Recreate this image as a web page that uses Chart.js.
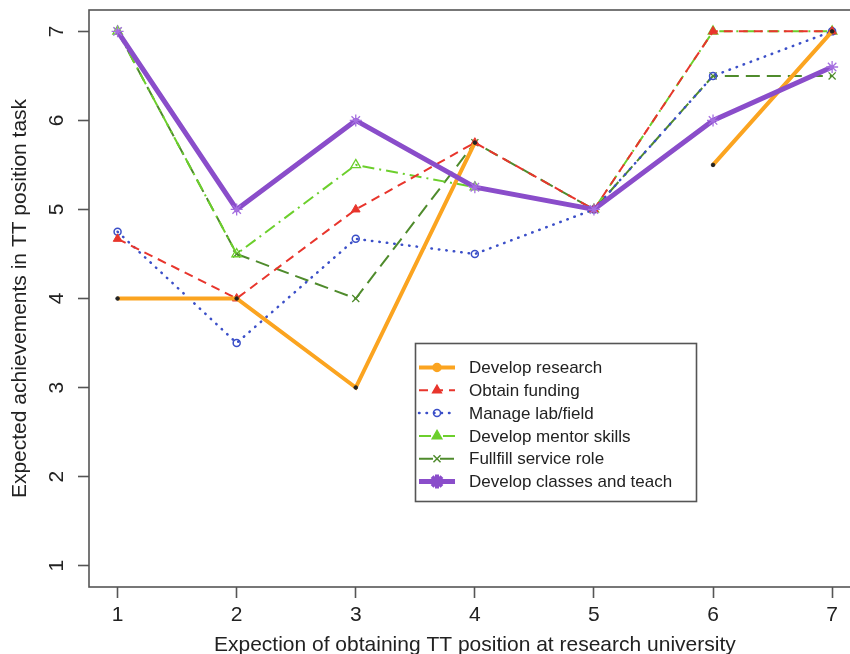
<!DOCTYPE html>
<html lang="en">
<head>
  <meta charset="UTF-8" />
  <title>Expected achievements in TT position task</title>
  <script src="https://cdn.jsdelivr.net/npm/chart.js"></script>
  <style>
    html, body {
      margin: 0;
      padding: 0;
      background: #fff;
      overflow: hidden;
    }
  </style>
</head>
<body>
  <canvas id="chart" width="868" height="658" style="display:block;width:868px;height:658px"></canvas>

  <script>
    // x positions (expectation level) and tick labels
    const xValues = [1, 2, 3, 4, 5, 6, 7];
    const xTicks = [1, 2, 3, 4, 5, 6, 7];
    const yTicks = [1, 2, 3, 4, 5, 6, 7];

    const seriesNames = [
      'Develop research',
      'Obtain funding',
      'Manage lab/field',
      'Develop mentor skills',
      'Fullfill service role',
      'Develop classes and teach'
    ];

    // values (null = no value)
    const research = [4, 4, 3, 5.75, null, 5.5, 7];
    const funding  = [4.67, 4, 5, 5.75, 5, 7, 7];
    const lab      = [4.75, 3.5, 4.67, 4.5, 5, 6.5, 7];
    const mentor   = [7, 4.5, 5.5, 5.25, 5, 7, 7];
    const service  = [7, 4.5, 4, 5.75, 5, 6.5, 6.5];
    const teach    = [7, 5, 6, 5.25, 5, 6, 6.6];

    const FONT = 'Arial, "Liberation Sans", sans-serif';
    const INK = '#222';

    function pts(vals) {
      return xValues.map((x, i) => ({ x: x, y: vals[i] }));
    }

    const datasets = [
      {
        label: seriesNames[0], data: pts(research),
        borderColor: '#FBA420', borderWidth: 4,
        pointStyle: 'circle', pointRadius: 1.8, pointBackgroundColor: '#222', pointBorderColor: '#222', pointBorderWidth: 1,
        legendPoint: { style: 'circle', radius: 4, fill: '#FBA420', stroke: '#FBA420' },
        order: 1
      },
      {
        label: seriesNames[1], data: pts(funding),
        borderColor: '#E8352C', borderWidth: 2, borderDash: [9, 6],
        pointStyle: 'triangle', pointRadius: 5, pointBackgroundColor: '#E8352C', pointBorderColor: '#E8352C', pointBorderWidth: 1,
        legendPoint: { style: 'triangle', radius: 5, fill: '#E8352C', stroke: '#E8352C' },
        order: 2
      },
      {
        label: seriesNames[2], data: pts(lab),
        borderColor: '#3B4FC8', borderWidth: 2.5, borderDash: [0.5, 7], borderCapStyle: 'round',
        pointStyle: 'circle', pointRadius: 3.5, pointBackgroundColor: 'rgba(255,255,255,0)', pointBorderColor: '#3B4FC8', pointBorderWidth: 1.5,
        legendPoint: { style: 'circle', radius: 3.5, fill: null, stroke: '#3B4FC8' },
        order: 3
      },
      {
        label: seriesNames[3], data: pts(mentor),
        borderColor: '#6CCF2C', borderWidth: 2, borderDash: [12, 5, 2, 5],
        pointStyle: 'triangle', pointRadius: 5.5, pointBackgroundColor: 'rgba(255,255,255,0)', pointBorderColor: '#6CCF2C', pointBorderWidth: 1.3,
        legendPoint: { style: 'triangle', radius: 5.5, fill: '#6CCF2C', stroke: '#6CCF2C' },
        order: 4
      },
      {
        label: seriesNames[4], data: pts(service),
        borderColor: '#4F8B2C', borderWidth: 2, borderDash: [14, 7],
        pointStyle: 'crossRot', pointRadius: 5, pointBorderColor: '#4F8B2C', pointBorderWidth: 1.3,
        legendPoint: { style: 'crossRot', radius: 5, fill: null, stroke: '#4F8B2C' },
        order: 5
      },
      {
        label: seriesNames[5], data: pts(teach),
        borderColor: '#8A4DCA', borderWidth: 5,
        pointStyle: 'star', pointRadius: 6, pointBorderColor: '#A56FE0', pointBorderWidth: 1.3,
        legendPoint: { style: 'star', radius: 7, fill: '#8A4DCA', stroke: '#8A4DCA', width: 4 },
        order: 0
      }
    ];
    datasets.forEach(d => {
      d.fill = false;
      d.tension = 0;
      d.spanGaps = false;
    });

    // frame, rotated y tick labels and the boxed legend
    const decor = {
      id: 'decor',
      afterDraw(chart) {
        const ctx = chart.ctx;
        const a = chart.chartArea;
        const ys = chart.scales.y;

        ctx.save();
        ctx.strokeStyle = '#555';
        ctx.lineWidth = 1.6;
        ctx.strokeRect(a.left, a.top, a.right - a.left, a.bottom - a.top);

        ctx.fillStyle = INK;
        ctx.font = '21px ' + FONT;
        ctx.textAlign = 'center';
        ctx.textBaseline = 'middle';
        yTicks.forEach(v => {
          const py = ys.getPixelForValue(v);
          ctx.save();
          ctx.translate(56, py);
          ctx.rotate(-Math.PI / 2);
          ctx.fillText(String(v), 0, 1);
          ctx.restore();
        });

        // legend
        const lx = 415.5, ly = 343.5, lw = 281, lh = 158;
        ctx.fillStyle = '#fff';
        ctx.fillRect(lx, ly, lw, lh);
        ctx.strokeStyle = '#555';
        ctx.lineWidth = 1.6;
        ctx.strokeRect(lx, ly, lw, lh);

        ctx.font = '17px ' + FONT;
        ctx.textAlign = 'left';
        ctx.textBaseline = 'middle';
        chart.data.datasets.forEach((d, i) => {
          const y = 367.5 + i * 22.8;
          ctx.save();
          ctx.strokeStyle = d.borderColor;
          ctx.lineWidth = d.borderWidth;
          ctx.lineCap = d.borderCapStyle || 'butt';
          ctx.setLineDash(d.borderDash || []);
          ctx.beginPath();
          ctx.moveTo(419, y);
          ctx.lineTo(455, y);
          ctx.stroke();
          ctx.setLineDash([]);
          const lp = d.legendPoint;
          ctx.fillStyle = lp.fill || 'rgba(0,0,0,0)';
          ctx.strokeStyle = lp.stroke;
          ctx.lineWidth = lp.width || 1.5;
          Chart.helpers.drawPoint(ctx, {
            pointStyle: lp.style, radius: lp.radius, rotation: 0, borderWidth: lp.width || 1.5
          }, 437, y);
          ctx.restore();
          ctx.fillStyle = INK;
          ctx.fillText(d.label, 469, y + 1);
        });
        ctx.restore();
      }
    };

    new Chart(document.getElementById('chart').getContext('2d'), {
      type: 'line',
      data: { datasets: datasets },
      plugins: [decor],
      options: {
        responsive: false,
        animation: false,
        layout: { padding: { left: 0, top: 10, right: 1, bottom: 0 } },
        plugins: {
          legend: { display: false },
          tooltip: { enabled: false }
        },
        scales: {
          x: {
            type: 'linear',
            min: 0.76,
            max: 7.24,
            afterBuildTicks: s => { s.ticks = xTicks.map(v => ({ value: v })); },
            afterFit: s => {
              s.height = 71;
            },
            border: { display: false },
            grid: {
              drawOnChartArea: false,
              drawTicks: true,
              tickLength: 11,
              tickColor: '#555',
              tickWidth: 1.6
            },
            ticks: {
              color: INK,
              font: { family: FONT, size: 21 },
              padding: 5,
              maxRotation: 0
            },
            title: {
              display: true,
              text: 'Expection of obtaining TT position at research university',
              color: INK,
              font: { family: FONT, size: 21 },
              padding: { top: 0, bottom: 0 }
            }
          },
          y: {
            type: 'linear',
            min: 0.76,
            max: 7.24,
            afterBuildTicks: s => { s.ticks = yTicks.map(v => ({ value: v })); },
            afterFit: s => { s.width = 89; },
            border: { display: false },
            grid: {
              drawOnChartArea: false,
              drawTicks: true,
              tickLength: 11,
              tickColor: '#555',
              tickWidth: 1.6
            },
            ticks: { display: false },
            title: {
              display: true,
              text: 'Expected achievements in TT position task',
              color: INK,
              font: { family: FONT, size: 21 },
              padding: { top: 8, bottom: 0 }
            }
          }
        }
      }
    });
  </script>
</body>
</html>
